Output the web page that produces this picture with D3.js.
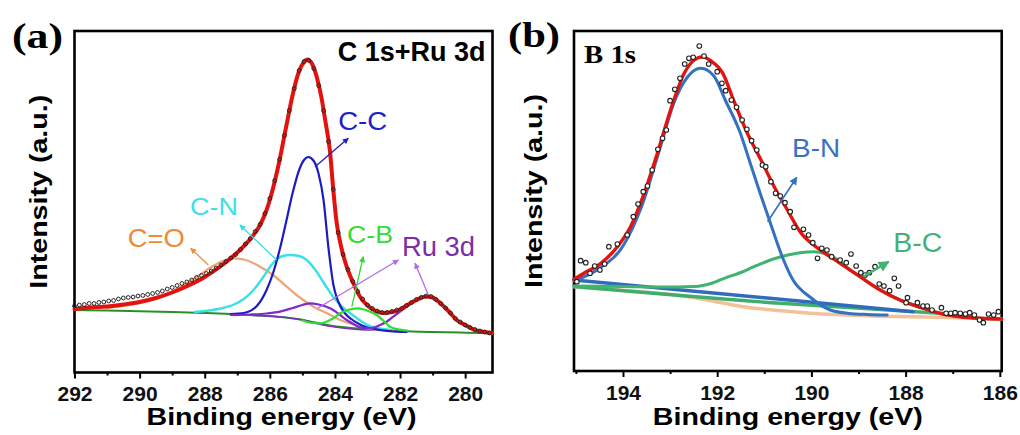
<!DOCTYPE html>
<html>
<head>
<meta charset="utf-8">
<script src="https://cdn.jsdelivr.net/npm/d3@7"></script>
<style>
  body { margin: 0; background: #fff; }
</style>
</head>
<body>
<svg id="chart" width="1020" height="435"></svg>
<script>
// ---------- panel (a): C 1s + Ru 3d  [binding energy eV, intensity a.u.] ----------
var envA = [[292.0, 63.5], [291.5, 65], [291.0, 66], [290.5, 68], [290.0, 70.5], [289.5, 74.5], [289.0, 80],
  [288.5, 87], [288.0, 95.5], [287.5, 106.5], [287.0, 120], [286.6, 133.5], [286.3, 147.5], [286.1, 162.5],
  [285.9, 184.5], [285.7, 212.5], [285.5, 245.5], [285.3, 277.5], [285.1, 301.5], [284.95, 310.5], [284.85, 313],
  [284.7, 308.5], [284.55, 294.5], [284.4, 272.5], [284.3, 252.5], [284.15, 220.5], [284.05, 182.5],
  [283.95, 150.5], [283.8, 124.5], [283.64, 105.8], [283.45, 90.5], [283.23, 75.8], [283.0, 67], [282.75, 61.5],
  [282.5, 59.5], [282.25, 60.5], [282.0, 63], [281.75, 68], [281.5, 72.5], [281.2, 76], [281.0, 75],
  [280.77, 69.5], [280.5, 61], [280.26, 52.5], [280.0, 47.5], [279.75, 43.2], [279.5, 41], [279.17, 39.2]];

var pointsA = [[292.00, 66.5], [291.85, 67.5], [291.70, 68], [291.55, 69], [291.40, 69], [291.25, 70], [291.10, 70.5],
  [290.95, 71.5], [290.80, 72], [290.65, 73.5], [290.50, 74.5], [290.35, 75], [290.20, 75.5], [290.05, 76.5],
  [289.90, 77], [289.75, 78], [289.60, 79], [289.45, 80], [289.30, 81.5], [289.15, 83.5], [289.00, 85],
  [288.85, 87], [288.70, 89], [288.55, 90.5], [288.40, 92.5], [288.25, 95], [288.10, 97], [287.95, 99],
  [287.80, 101.5], [287.65, 104.5], [287.50, 107.5], [287.35, 111], [287.20, 114.5], [287.05, 118], [286.90, 123],
  [286.75, 128.5], [286.60, 134], [286.45, 141], [286.30, 148], [286.15, 159], [286.00, 174], [285.85, 192],
  [285.70, 213], [285.55, 237], [285.40, 262], [285.25, 284], [285.10, 302], [284.95, 311], [284.80, 312],
  [284.65, 304], [284.50, 287], [284.35, 262], [284.20, 231], [284.05, 183], [283.90, 140], [283.75, 118],
  [283.60, 103], [283.45, 91], [283.30, 81], [283.15, 73.5], [283.00, 67.5], [282.85, 64], [282.70, 61.5],
  [282.55, 60], [282.40, 60], [282.25, 61], [282.10, 62.5], [281.95, 64], [281.80, 67], [281.65, 70],
  [281.50, 73], [281.35, 75], [281.20, 76.5], [281.05, 76], [280.90, 73], [280.75, 69], [280.60, 64.5],
  [280.45, 59.5], [280.30, 54], [280.15, 50.5], [280.00, 47.5], [279.85, 45], [279.70, 43], [279.55, 41.5],
  [279.40, 40.5], [279.25, 39.5]];

var ccA = [[287.2, 58.5], [286.8, 59.5], [286.4, 66.5], [286.1, 82.5], [285.9, 99.5], [285.7, 122.5], [285.5, 150.5],
  [285.3, 179.5], [285.1, 202.5], [284.95, 212.5], [284.82, 215.5], [284.65, 211.5], [284.5, 198.5],
  [284.35, 172.5], [284.2, 125], [284.05, 88], [283.9, 71], [283.7, 59.5], [283.5, 53.5], [283.2, 47.5],
  [283.0, 45], [282.6, 42.5], [282.2, 41], [281.8, 40.5]];

var cnA = [[288.3, 60.5], [288.0, 61.5], [287.5, 64], [287.1, 68], [286.8, 73.5], [286.5, 82.5], [286.2, 95.5],
  [285.9, 109.5], [285.6, 116.5], [285.38, 117.5], [285.1, 116.5], [284.87, 112.5], [284.6, 102.5], [284.3, 87.5],
  [284.05, 75.5], [283.8, 66.5], [283.5, 58.5], [283.2, 51.5], [283.0, 47.5], [282.7, 44.5], [282.3, 42.5]];

var coA = [[291.0, 64.5], [290.3, 67.5], [289.7, 72], [289.2, 78], [288.7, 86.5], [288.2, 96.5], [287.8, 105.5],
  [287.4, 112], [287.12, 114.2], [286.8, 113], [286.3, 105.8], [285.9, 97.5], [285.48, 85.8], [285.1, 75.5],
  [284.66, 65.8], [284.2, 58.5], [283.84, 52.5], [283.4, 47.5], [283.02, 44.2], [282.6, 42.3], [282.2, 41.3]];

var cbA = [[285.0, 52], [284.7, 49.5], [284.46, 49.2], [284.25, 51], [284.05, 54.2], [283.84, 59.2], [283.6, 62.5],
  [283.33, 64.2], [283.1, 63], [282.9, 60.5], [282.72, 57.5], [282.5, 51.5], [282.31, 45.8], [282.0, 42.8],
  [281.79, 41.8]];

var ruA = [[287.2, 57.5], [286.6, 58], [286.1, 59], [285.69, 60.8], [285.3, 64.5], [285.0, 67.5], [284.77, 69.2],
  [284.5, 68], [284.15, 64.2], [283.9, 59], [283.64, 52.5], [283.4, 48], [283.23, 45.2], [282.92, 44.2],
  [282.61, 47.5], [282.4, 51], [282.21, 55.8], [282.0, 61], [281.79, 65.8], [281.5, 72], [281.25, 75.5],
  [281.0, 74.7], [280.77, 69.2], [280.5, 60.7], [280.26, 52.5], [280.0, 47.2], [279.75, 43.2], [279.5, 40.9],
  [279.17, 39.2]];

var ruBaseA = [[286.5, 57], [285.7, 55.8], [285.0, 52.5], [284.5, 48.5], [284.0, 45.5], [283.3, 43], [282.3, 42],
  [281.8, 41]];

var baseA = [[292, 62.5], [291, 62], [290, 61.3], [289, 60.5], [288, 59.5], [287, 58.2], [286.3, 57], [285.7, 55.5],
  [285.1, 53.2], [284.6, 50], [284.05, 46.5], [283.5, 44.5], [283.0, 43.2], [282.0, 41.5], [281.0, 40.5],
  [280.0, 39.8], [279.17, 39.2]];

var ticksA = [292, 290, 288, 286, 284, 282, 280];
var minorA = [291, 289, 287, 285, 283, 281];

// ---------- panel (b): B 1s ----------
var envB = [[195.04, 91.7], [194.83, 97.7], [194.47, 107.7], [194.12, 124.3], [193.84, 144.3], [193.55, 177.7],
  [193.27, 217.7], [192.99, 261], [192.70, 297.7], [192.49, 311], [192.31, 314.3], [192.14, 310.3],
  [191.88, 297.7], [191.64, 269.3], [191.36, 237.7], [191.07, 211], [190.79, 184.3], [190.51, 161],
  [190.24, 139.3], [189.81, 121], [189.39, 107.7], [188.97, 94.3], [188.54, 81], [188.12, 71], [187.69, 63.7],
  [187.27, 57.7], [186.84, 54.3], [186.42, 52.7], [185.96, 52]];

var pointsB = [[194.98, 89.3], [194.90, 110.3], [194.79, 108.3], [194.70, 97.7], [194.60, 105], [194.49, 101],
  [194.39, 107], [194.30, 124.3], [194.12, 127], [193.91, 136], [193.78, 154.3], [193.68, 167], [193.57, 179.3],
  [193.48, 185], [193.38, 201], [193.26, 221.7], [193.16, 232.7], [193.08, 241], [193.00, 270.3], [192.90, 281.7],
  [192.79, 292.7], [192.69, 307], [192.60, 312.7], [192.51, 313.7], [192.38, 325], [192.28, 315], [192.18, 307],
  [192.00, 299.3], [191.90, 287.7], [191.82, 280.3], [191.70, 271], [191.59, 263.7], [191.47, 251],
  [191.37, 241.7], [191.27, 230.3], [191.16, 221], [191.04, 206], [190.97, 204.3], [190.86, 189.3],
  [190.76, 177.7], [190.66, 175], [190.56, 168.3], [190.45, 159.3], [190.37, 143.7], [190.17, 141.7],
  [190.06, 136], [189.97, 128.3], [189.87, 112.7], [189.78, 122.7], [189.67, 121], [189.57, 114.3],
  [189.39, 111], [189.26, 108.3], [189.16, 117], [189.05, 105], [188.95, 98.3], [188.86, 96], [188.77, 98.3],
  [188.65, 104.3], [188.56, 87], [188.46, 85], [188.34, 80.3], [188.24, 92.7], [188.15, 85], [187.99, 68.3],
  [187.96, 73.3], [187.75, 68.3], [187.63, 65], [187.54, 65], [187.44, 61], [187.24, 63.3], [187.14, 57.7],
  [187.04, 57.7], [186.95, 58.3], [186.84, 57.7], [186.73, 57], [186.64, 58.3], [186.54, 56], [186.43, 51],
  [186.35, 48.3], [186.24, 57], [186.13, 56], [186.03, 59.3]];

var bnB = [[195.04, 90], [194.49, 103], [194.0, 125], [193.6, 165], [193.2, 225], [192.92, 268], [192.63, 294],
  [192.35, 302.7], [192.07, 295], [191.83, 271], [191.51, 238], [191.3, 208], [191.09, 178], [190.85, 145],
  [190.6, 112], [190.39, 91], [190.03, 74], [189.6, 61], [189.2, 57.5], [188.8, 56.5], [188.39, 56]];

var bcB = [[195.04, 85], [194.0, 84.5], [193.2, 84], [192.49, 84.5], [192.1, 88], [191.85, 92.7], [191.5, 98.5],
  [191.22, 104.3], [190.79, 112.2], [190.5, 116], [190.24, 118.3], [189.96, 119.3], [189.7, 117.5],
  [189.45, 111.5], [189.25, 103.5], [188.97, 94.5], [188.54, 81], [188.12, 71], [187.69, 63.7], [187.27, 57.7],
  [186.84, 54.3], [186.42, 52.7], [185.96, 52]];

var bnLineB = [[195.04, 91], [187.84, 59.3]];
var bcLineB = [[195.04, 84.5], [190.66, 67.7], [187.27, 57.7], [186.6, 55.5]];
var shirleyB = [[195.04, 84.3], [193.62, 79.3], [192.86, 76], [192.22, 71], [191.45, 64.3], [190.66, 60.3],
  [190.03, 57.7], [189.25, 56], [188.61, 54.8], [187.84, 54.3], [186.42, 52.7], [185.96, 52]];

var ticksB = [194, 192, 190, 188, 186];
var minorB = [195, 193, 191, 189, 187];

// ---------- drawing ----------
var SANS = '"Liberation Sans", Arial, Helvetica, sans-serif';
var SERIF = '"Liberation Serif", "Times New Roman", serif';

var svg = d3.select('#chart');
var defs = svg.append('defs');

function marker(id, color, len, wid) {
  defs.append('marker')
      .attr('id', id)
      .attr('viewBox', '0 -5 10 10')
      .attr('refX', 9)
      .attr('refY', 0)
      .attr('markerUnits', 'userSpaceOnUse')
      .attr('markerWidth', len)
      .attr('markerHeight', wid)
      .attr('orient', 'auto')
      .append('path')
      .attr('d', 'M0,-5L10,0L0,5Z')
      .attr('fill', color);
}

function panel(box, xDomain, yDomain, ticks, minor) {
  var x = d3.scaleLinear().domain(xDomain).range([box.left, box.right]);
  var y = d3.scaleLinear().domain(yDomain).range([box.bottom, box.top]);
  var g = svg.append('g');

  var major = g.append('g').attr('transform', 'translate(0,' + box.bottom + ')')
      .call(d3.axisBottom(x).tickValues(ticks).tickSize(6).tickSizeOuter(0).tickPadding(8).tickFormat(d3.format('d')));
  major.select('.domain').remove();
  major.selectAll('line').attr('stroke', '#000').attr('stroke-width', 2);
  major.selectAll('text')
      .attr('font-family', SANS)
      .attr('font-size', 21)
      .attr('font-weight', 'bold')
      .attr('fill', '#111');

  var small = g.append('g').attr('transform', 'translate(0,' + box.bottom + ')')
      .call(d3.axisBottom(x).tickValues(minor).tickSize(3).tickSizeOuter(0).tickFormat(''));
  small.select('.domain').remove();
  small.selectAll('line').attr('stroke', '#000').attr('stroke-width', 2);

  var line = d3.line()
      .x(function(d) { return x(d[0]); })
      .y(function(d) { return y(d[1]); })
      .curve(d3.curveMonotoneX);

  return {x: x, y: y, g: g, line: line, box: box};
}

function curve(p, data, color, width) {
  p.g.append('path')
      .attr('d', p.line(data))
      .attr('fill', 'none')
      .attr('stroke', color)
      .attr('stroke-width', width)
      .attr('stroke-linejoin', 'round')
      .attr('stroke-linecap', 'round');
}

function arrow(p, from, to, color, width, id) {
  p.g.append('line')
      .attr('x1', p.x(from[0]))
      .attr('y1', p.y(from[1]))
      .attr('x2', p.x(to[0]))
      .attr('y2', p.y(to[1]))
      .attr('stroke', color)
      .attr('stroke-width', width)
      .attr('marker-end', 'url(#' + id + ')');
}

function label(p, at, txt, color, size, len) {
  var t = p.g.append('text')
      .attr('x', p.x(at[0]))
      .attr('y', p.y(at[1]))
      .attr('font-family', SANS)
      .attr('font-size', size)
      .attr('fill', color)
      .text(txt);
  if (len) t.attr('textLength', len).attr('lengthAdjust', 'spacingAndGlyphs');
}

function frame(p, shift, ylab, yLabX) {
  var b = p.box;
  p.g.append('rect')
      .attr('x', b.left)
      .attr('y', b.top)
      .attr('width', b.right - b.left)
      .attr('height', b.bottom - b.top)
      .attr('fill', 'none')
      .attr('stroke', '#000')
      .attr('stroke-width', 2.6);

  p.g.append('text')
      .attr('x', (b.left + b.right) / 2 + shift)
      .attr('y', 425)
      .attr('text-anchor', 'middle')
      .attr('font-family', SANS)
      .attr('font-size', 23)
      .attr('font-weight', 'bold')
      .attr('textLength', 270)
      .attr('lengthAdjust', 'spacingAndGlyphs')
      .text('Binding energy (eV)');

  p.g.append('text')
      .attr('transform', 'translate(' + yLabX + ',' + ((b.top + b.bottom) / 2 - 10) + ') rotate(-90)')
      .attr('text-anchor', 'middle')
      .attr('font-family', SANS)
      .attr('font-size', 24)
      .attr('font-weight', 'bold')
      .attr('textLength', 194)
      .attr('lengthAdjust', 'spacingAndGlyphs')
      .text(ylab);
}

marker('hCC', '#1f1fc4', 7, 6);
marker('hCN', '#35dde6', 7, 6);
marker('hCO', '#ee8f3c', 7, 6);
marker('hCB', '#2fd62f', 7, 6);
marker('hRu', '#b46ae6', 7, 6);
marker('hBN', '#3272c0', 11, 8);
marker('hBC', '#3fb36f', 14, 11);

// panel (a)
var pa = panel({left: 74.5, right: 492.5, top: 31, bottom: 372.5}, [292, 279.16], [0, 341.5], ticksA, minorA);
frame(pa, -2, 'Intensity (a.u.)', 47);

curve(pa, baseA, '#2a8f2a', 2);
curve(pa, ruBaseA, '#7a2fc0', 1.6);
curve(pa, coA, '#eba57a', 2.2);
curve(pa, cnA, '#38e0e8', 2.4);
curve(pa, ccA, '#1c1cc0', 2.2);
curve(pa, ruA, '#7d2bd0', 2.2);
curve(pa, cbA, '#2ee02e', 2.2);
curve(pa, envA, '#e3120e', 4);

pa.g.append('g').selectAll('circle')
    .data(pointsA)
    .enter()
    .append('circle')
    .attr('cx', function(d) { return pa.x(d[0]); })
    .attr('cy', function(d) { return pa.y(d[1]); })
    .attr('r', 1.9)
    .attr('fill', 'none')
    .attr('stroke', '#222')
    .attr('stroke-width', 1);

arrow(pa, [284.61, 205.8], [283.59, 234.2], '#1f1fc4', 1.3, 'hCC');
arrow(pa, [285.79, 112.5], [286.92, 147.5], '#35dde6', 1.3, 'hCN');
arrow(pa, [287.89, 107.5], [288.43, 124.2], '#ee8f3c', 1.3, 'hCO');
arrow(pa, [283.48, 65.8], [283.13, 115.8], '#2fd62f', 1.3, 'hCB');
arrow(pa, [284.52, 64.5], [282.05, 112.5], '#b46ae6', 1.3, 'hRu');
arrow(pa, [281.13, 77.5], [281.54, 109.2], '#b46ae6', 1.3, 'hRu');

label(pa, [283.90, 242.5], 'C-C', '#2020c8', 25, 49);
label(pa, [288.45, 157.5], 'C-N', '#3fe0e6', 24, 48);
label(pa, [290.36, 125.5], 'C=O', '#ef8a36', 25, 57);
label(pa, [283.63, 129.5], 'C-B', '#35dc35', 24, 46);
label(pa, [281.94, 116.5], 'Ru 3d', '#7b2ea6', 27, 73);

pa.g.append('text')
    .attr('x', pa.box.right - 7)
    .attr('y', 60.5)
    .attr('text-anchor', 'end')
    .attr('font-family', SANS)
    .attr('font-size', 27)
    .attr('font-weight', 'bold')
    .text('C 1s+Ru 3d');

svg.append('text')
    .attr('x', 12)
    .attr('y', 48)
    .attr('font-family', SERIF)
    .attr('font-size', 36)
    .attr('font-weight', 'bold')
    .attr('textLength', 51)
    .attr('lengthAdjust', 'spacingAndGlyphs')
    .text('(a)');

// panel (b)
var pb = panel({left: 574, right: 1001.7, top: 31, bottom: 371}, [195.04, 185.96], [0, 340], ticksB, minorB);
frame(pb, 0, 'Intensity (a.u.)', 542);

curve(pb, shirleyB, '#f4c29a', 3.4);
curve(pb, bcLineB, '#3fae6c', 3.4);
curve(pb, bnLineB, '#2f6cbc', 3.4);
curve(pb, bcB, '#3fb36f', 3);
curve(pb, bnB, '#3272c0', 3);
curve(pb, envB, '#e3140f', 3.4);

pb.g.append('g').selectAll('circle')
    .data(pointsB)
    .enter()
    .append('circle')
    .attr('cx', function(d) { return pb.x(d[0]); })
    .attr('cy', function(d) { return pb.y(d[1]); })
    .attr('r', 2.3)
    .attr('fill', '#fff')
    .attr('stroke', '#222')
    .attr('stroke-width', 1.1);

arrow(pb, [190.93, 149.3], [190.31, 193.7], '#3272c0', 1.6, 'hBN');
arrow(pb, [188.90, 94.3], [188.36, 109.3], '#3fb36f', 2.2, 'hBC');

label(pb, [190.41, 214], 'B-N', '#3a72c0', 26, 48);
label(pb, [188.26, 119], 'B-C', '#45b073', 27, 49);

pb.g.append('text')
    .attr('x', pb.box.left + 10)
    .attr('y', 62.5)
    .attr('font-family', SERIF)
    .attr('font-size', 25)
    .attr('font-weight', 'bold')
    .attr('textLength', 52)
    .attr('lengthAdjust', 'spacingAndGlyphs')
    .text('B 1s');

svg.append('text')
    .attr('x', 508)
    .attr('y', 47)
    .attr('font-family', SERIF)
    .attr('font-size', 36)
    .attr('font-weight', 'bold')
    .attr('textLength', 52)
    .attr('lengthAdjust', 'spacingAndGlyphs')
    .text('(b)');
</script>
</body>
</html>
